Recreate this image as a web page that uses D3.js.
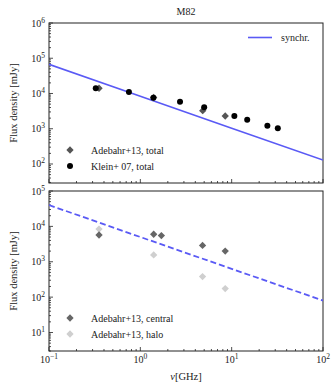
<!DOCTYPE html>
<html><head><meta charset="utf-8">
<script src="https://cdn.jsdelivr.net/npm/d3@7"></script>
<style>body{margin:0;background:#fff}svg{display:block}text{font-family:"Liberation Serif","Times New Roman",serif;fill:#222}</style>
</head><body><svg id="c" width="332" height="382"></svg>
<script>
// Data (frequency in GHz, flux density in mJy)
const kleinFreq = [0.325, 0.75, 1.39, 2.72, 5.0, 10.7, 14.8, 24.6, 32.0];
const kleinFlux = [14100, 11000, 7600, 5850, 4050, 2300, 1810, 1220, 1030];
const adebahrTotalFreq = [0.353, 1.4, 4.82, 8.5];
const adebahrTotalFlux = [14100, 7700, 3250, 2300];
const synchrFreq = [0.1, 1, 10, 100];
const synchrTotalFlux = [67000, 8400, 1040, 130];
const synchrCentralFlux = [40000, 5000, 630, 80];
const adebahrCentralFreq = [0.353, 1.4, 1.7, 4.8, 8.5];
const adebahrCentralFlux = [5700, 6000, 5500, 2900, 2000];
const adebahrHaloFreq = [0.353, 1.4, 4.8, 8.5];
const adebahrHaloFlux = [8400, 1560, 380, 174];
const xTickExps = [-1, 0, 1, 2];
const yTopExps = [2, 3, 4, 5, 6];
const yBotExps = [1, 2, 3, 4, 5];

const svg = d3.select("#c");
const L = 49, R = 323;
const x = d3.scaleLog().domain([0.1, 100]).range([L, R]);
const panels = [
  {top: 23, bot: 183, domain: [28.9, 1e6], exps: yTopExps, xlabels: false},
  {top: 191, bot: 351, domain: [3.0, 1e5], exps: yBotExps, xlabels: true}
];
const blue = "#5a5af5";
const sup = (sel, e) => { sel.text("10"); sel.append("tspan").attr("dy", -4).attr("font-size", 7.5).text(e < 0 ? "\u2212" + (-e) : e); };

panels.forEach((p, i) => {
  const y = d3.scaleLog().domain(p.domain).range([p.bot, p.top]);
  p.y = y;
  const g = svg.append("g");
  // minor & major ticks x (inside, bottom)
  const xt = [];
  for (let e = -1; e < 2; e++) for (let m = 1; m < 10; m++) xt.push(m * Math.pow(10, e));
  xt.push(100);
  xt.forEach(v => {
    const major = Math.abs(Math.log10(v) - Math.round(Math.log10(v))) < 1e-9;
    g.append("line").attr("x1", x(v)).attr("x2", x(v)).attr("y1", p.bot).attr("y2", p.bot - (major ? 4 : 2)).attr("stroke", "#222").attr("stroke-width", 0.8);
  });
  const e0 = Math.floor(Math.log10(p.domain[0]));
  for (let e = e0; e <= Math.log10(p.domain[1]); e++) for (let m = 1; m < 10; m++) {
    const v = m * Math.pow(10, e);
    if (v < p.domain[0] || v > p.domain[1] * 1.0001) continue;
    g.append("line").attr("x1", L).attr("x2", L + (m === 1 ? 4 : 2)).attr("y1", y(v)).attr("y2", y(v)).attr("stroke", "#222").attr("stroke-width", 0.8);
  }
  p.exps.forEach(e => {
    g.append("text").attr("x", L - 4).attr("y", y(Math.pow(10, e)) + 3.5).attr("text-anchor", "end").attr("font-size", 10).call(s => sup(s, e));
  });
  if (p.xlabels) {
    xTickExps.forEach(e => {
      g.append("text").attr("x", x(Math.pow(10, e))).attr("y", p.bot + 12).attr("text-anchor", "middle").attr("font-size", 10).call(s => sup(s, e));
    });
  }
  g.append("rect").attr("x", L).attr("y", p.top).attr("width", R - L).attr("height", p.bot - p.top).attr("fill", "none").attr("stroke", "#222").attr("stroke-width", 1);
  g.append("text").attr("transform", `translate(17,${(p.top + p.bot) / 2}) rotate(-90)`).attr("text-anchor", "middle").attr("font-size", 10.5).text("Flux density [mJy]");
  g.append("clipPath").attr("id", "clip" + i).append("rect").attr("x", L).attr("y", p.top).attr("width", R - L).attr("height", p.bot - p.top);
});

const diamond = d3.symbol().type(d3.symbolDiamond2).size(34);
function diamonds(p, fx, fy, color) {
  svg.append("g").selectAll("path").data(fx).join("path")
    .attr("d", diamond).attr("transform", (d, i) => `translate(${x(d)},${p.y(fy[i])}) rotate(0)`)
    .attr("fill", color);
}
function circles(p, fx, fy) {
  svg.append("g").selectAll("circle").data(fx).join("circle")
    .attr("cx", d => x(d)).attr("cy", (d, i) => p.y(fy[i])).attr("r", 3).attr("fill", "#000");
}

// Top panel
const pt = panels[0];
const line = (p, fy) => d3.line().x(d => x(d)).y((d, i) => p.y(fy[i]));
svg.append("path").datum(synchrFreq).attr("d", line(pt, synchrTotalFlux)).attr("fill", "none").attr("stroke", blue).attr("stroke-width", 1.6).attr("clip-path", "url(#clip0)");
diamonds(pt, adebahrTotalFreq, adebahrTotalFlux, "#555");
circles(pt, kleinFreq, kleinFlux);

// Bottom panel
const pb = panels[1];
svg.append("path").datum(synchrFreq).attr("d", line(pb, synchrCentralFlux)).attr("fill", "none").attr("stroke", blue).attr("stroke-width", 1.8).attr("stroke-dasharray", "6,3").attr("clip-path", "url(#clip1)");
diamonds(pb, adebahrHaloFreq, adebahrHaloFlux, "#cfcfcf");
diamonds(pb, adebahrCentralFreq, adebahrCentralFlux, "#666");

// Legends
svg.append("line").attr("x1", 248).attr("x2", 272).attr("y1", 37.5).attr("y2", 37.5).attr("stroke", blue).attr("stroke-width", 1.6);
svg.append("text").attr("x", 281).attr("y", 41).attr("font-size", 10).text("synchr.");
svg.append("path").attr("d", diamond).attr("transform", "translate(70,150)").attr("fill", "#555");
svg.append("text").attr("x", 91).attr("y", 153.5).attr("font-size", 10).text("Adebahr+13, total");
svg.append("circle").attr("cx", 70).attr("cy", 166).attr("r", 3).attr("fill", "#000");
svg.append("text").attr("x", 91).attr("y", 169.5).attr("font-size", 10).text("Klein+ 07, total");
svg.append("path").attr("d", diamond).attr("transform", "translate(70,318)").attr("fill", "#666");
svg.append("text").attr("x", 91).attr("y", 321.5).attr("font-size", 10).text("Adebahr+13, central");
svg.append("path").attr("d", diamond).attr("transform", "translate(70,334)").attr("fill", "#cfcfcf");
svg.append("text").attr("x", 91).attr("y", 337.5).attr("font-size", 10).text("Adebahr+13, halo");

// Title and x label
svg.append("text").attr("x", 186).attr("y", 15).attr("text-anchor", "middle").attr("font-size", 10).text("M82");
const xl = svg.append("text").attr("x", 186).attr("y", 380).attr("text-anchor", "middle").attr("font-size", 10.5);
xl.append("tspan").attr("font-style", "italic").text("\u03bd");
xl.append("tspan").text("[GHz]");
</script></body></html>
